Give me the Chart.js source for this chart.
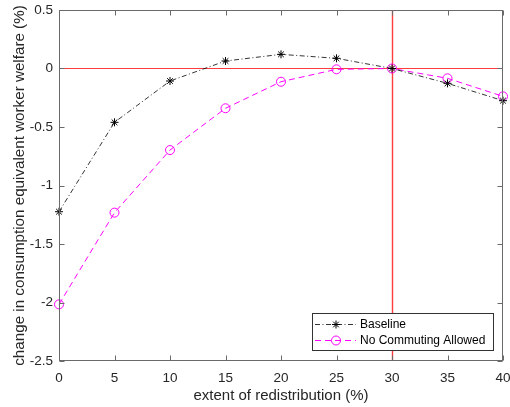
<!DOCTYPE html>
<html>
<head>
<meta charset="utf-8">
<script src="https://cdn.jsdelivr.net/npm/chart.js@4.4.1/dist/chart.umd.min.js"></script>
<style>
html,body{margin:0;padding:0;background:#fff;}
#wrap{width:510px;height:407px;}
</style>
</head>
<body>
<div id="wrap"><canvas id="c" width="510" height="407"></canvas></div>
<script>
const categories = [0, 5, 10, 15, 20, 25, 30, 35, 40];
const baseline = [-1.224, -0.46, -0.107, 0.064, 0.121, 0.087, 0.0, -0.127, -0.275];
const noCommuting = [-2.016, -1.232, -0.697, -0.34, -0.113, -0.007, 0.0, -0.084, -0.238];
const xTickLabels = ['0', '5', '10', '15', '20', '25', '30', '35', '40'];
const yTickValues = [0.5, 0, -0.5, -1, -1.5, -2, -2.5];
const yTickLabels = ['0.5', '0', '-0.5', '-1', '-1.5', '-2', '-2.5'];
const refX = [30];
const refY = [0];
const seriesNames = ['Baseline', 'No Commuting Allowed'];

const FONT = "'Liberation Sans', Arial, Helvetica, sans-serif";
const TEXT = '#262626';

const refLines = {
  id: 'refLines',
  beforeDatasetsDraw(chart) {
    const {ctx, chartArea: a, scales: {x, y}} = chart;
    ctx.save();
    ctx.fillStyle = '#ff3c3c';
    refY.forEach(v => {
      const py = Math.round(y.getPixelForValue(v));
      ctx.fillRect(a.left, py, a.right - a.left, 1);
    });
    refX.forEach(v => {
      const px = Math.round(x.getPixelForValue(v));
      ctx.fillRect(px - 0.2, a.top, 1.4, a.bottom - a.top);
    });
    ctx.restore();
  }
};

const boxTicks = {
  id: 'boxTicks',
  afterDatasetsDraw(chart) {
    const {ctx, chartArea: a, scales: {x, y}} = chart;
    ctx.save();
    ctx.strokeStyle = '#6a6a6a';
    ctx.lineWidth = 1;
    const L = Math.round(a.left) + 0.5, R = Math.round(a.right) - 0.5;
    const T = Math.round(a.top) + 0.5, B = Math.round(a.bottom) - 0.5;
    ctx.strokeRect(L, T, R - L, B - T);
    const len = 5;
    ctx.beginPath();
    categories.forEach(v => {
      const px = Math.round(x.getPixelForValue(v)) + 0.5;
      ctx.moveTo(px, B); ctx.lineTo(px, B - len);
      ctx.moveTo(px, T); ctx.lineTo(px, T + len);
    });
    yTickValues.forEach(v => {
      const py = Math.round(y.getPixelForValue(v)) + 0.5;
      ctx.moveTo(L, py); ctx.lineTo(L + len, py);
      ctx.moveTo(R, py); ctx.lineTo(R - len, py);
    });
    ctx.stroke();
    ctx.restore();
  }
};

const legendBox = {
  id: 'legendBox',
  afterDraw(chart) {
    const {ctx} = chart;
    ctx.save();
    const bx = 312.5, by = 313.5, bw = 181, bh = 37;
    ctx.fillStyle = '#fff';
    ctx.fillRect(bx, by, bw, bh);
    ctx.strokeStyle = '#333';
    ctx.lineWidth = 1;
    ctx.strokeRect(bx, by, bw, bh);
    const rows = [
      {name: seriesNames[0], color: '#000', dash: [5, 2.5, 1, 2.5], marker: 'star', w: 0.8},
      {name: seriesNames[1], color: '#ff00ff', dash: [6, 4], marker: 'circle', w: 1}
    ];
    const ys = [324.5, 340.5];
    rows.forEach((r, i) => {
      const yy = ys[i];
      ctx.strokeStyle = r.color;
      ctx.lineWidth = r.w;
      ctx.setLineDash(r.dash);
      ctx.beginPath(); ctx.moveTo(315, yy); ctx.lineTo(356, yy); ctx.stroke();
      ctx.setLineDash([]);
      ctx.lineWidth = 1;
      if (r.marker === 'circle') {
        ctx.beginPath(); ctx.arc(336, yy, 4.5, 0, Math.PI * 2); ctx.stroke();
      } else {
        const s = 4;
        ctx.beginPath();
        ctx.moveTo(336 - s, yy); ctx.lineTo(336 + s, yy);
        ctx.moveTo(336, yy - s); ctx.lineTo(336, yy + s);
        const d = s * 0.707;
        ctx.moveTo(336 - d, yy - d); ctx.lineTo(336 + d, yy + d);
        ctx.moveTo(336 - d, yy + d); ctx.lineTo(336 + d, yy - d);
        ctx.stroke();
      }
      ctx.fillStyle = '#000';
      ctx.font = '12px ' + FONT;
      ctx.textBaseline = 'middle';
      ctx.textAlign = 'left';
      ctx.fillText(r.name, 360, yy);
    });
    ctx.restore();
  }
};

new Chart(document.getElementById('c'), {
  type: 'line',
  data: {
    datasets: [
      {
        label: seriesNames[0],
        data: categories.map((c, i) => ({x: c, y: baseline[i]})),
        borderColor: '#000',
        borderWidth: 0.8,
        borderDash: [5, 2.5, 1, 2.5],
        pointStyle: 'star',
        pointRadius: 4,
        pointBorderColor: '#000',
        pointBorderWidth: 1,
        pointBackgroundColor: '#000',
        fill: false,
        tension: 0,
        clip: false
      },
      {
        label: seriesNames[1],
        data: categories.map((c, i) => ({x: c, y: noCommuting[i]})),
        borderColor: '#ff00ff',
        borderWidth: 1,
        borderDash: [6, 4],
        pointStyle: 'circle',
        pointRadius: 4.5,
        pointBorderColor: '#ff00ff',
        pointBorderWidth: 1,
        pointBackgroundColor: 'rgba(0,0,0,0)',
        fill: false,
        tension: 0,
        clip: false
      }
    ]
  },
  options: {
    responsive: false,
    devicePixelRatio: 1,
    animation: false,
    events: [],
    layout: {padding: {top: 10, right: 7, left: 0, bottom: 0}},
    plugins: {legend: {display: false}, tooltip: {enabled: false}},
    scales: {
      x: {
        type: 'linear',
        min: 0, max: 40,
        afterBuildTicks(s) { s.ticks = categories.map(v => ({value: v})); },
        ticks: {
          callback: (v, i) => xTickLabels[i],
          font: {family: FONT, size: 13.5},
          color: TEXT,
          padding: 9,
          maxRotation: 0,
          autoSkip: false
        },
        grid: {display: false, drawTicks: false},
        border: {display: false},
        title: {display: true, text: 'extent of redistribution (%)', font: {family: FONT, size: 15}, color: TEXT, padding: {top: 0, bottom: 2}},
        afterFit(s) { s.height = 46; s.paddingLeft = 0; s.paddingRight = 0; }
      },
      y: {
        type: 'linear',
        min: -2.5, max: 0.5,
        afterBuildTicks(s) { s.ticks = yTickValues.map(v => ({value: v})); },
        ticks: {
          callback: (v, i) => yTickLabels[i],
          font: {family: FONT, size: 13.5},
          color: TEXT,
          padding: 6,
          autoSkip: false
        },
        grid: {display: false, drawTicks: false},
        border: {display: false},
        title: {display: true, text: 'change in consumption equivalent worker welfare (%)', font: {family: FONT, size: 15.2}, color: TEXT, padding: {top: 11, bottom: 0}},
        afterFit(s) { s.width = 59; s.paddingTop = 0; s.paddingBottom = 0; }
      }
    }
  },
  plugins: [refLines, boxTicks, legendBox]
});
</script>
</body>
</html>
